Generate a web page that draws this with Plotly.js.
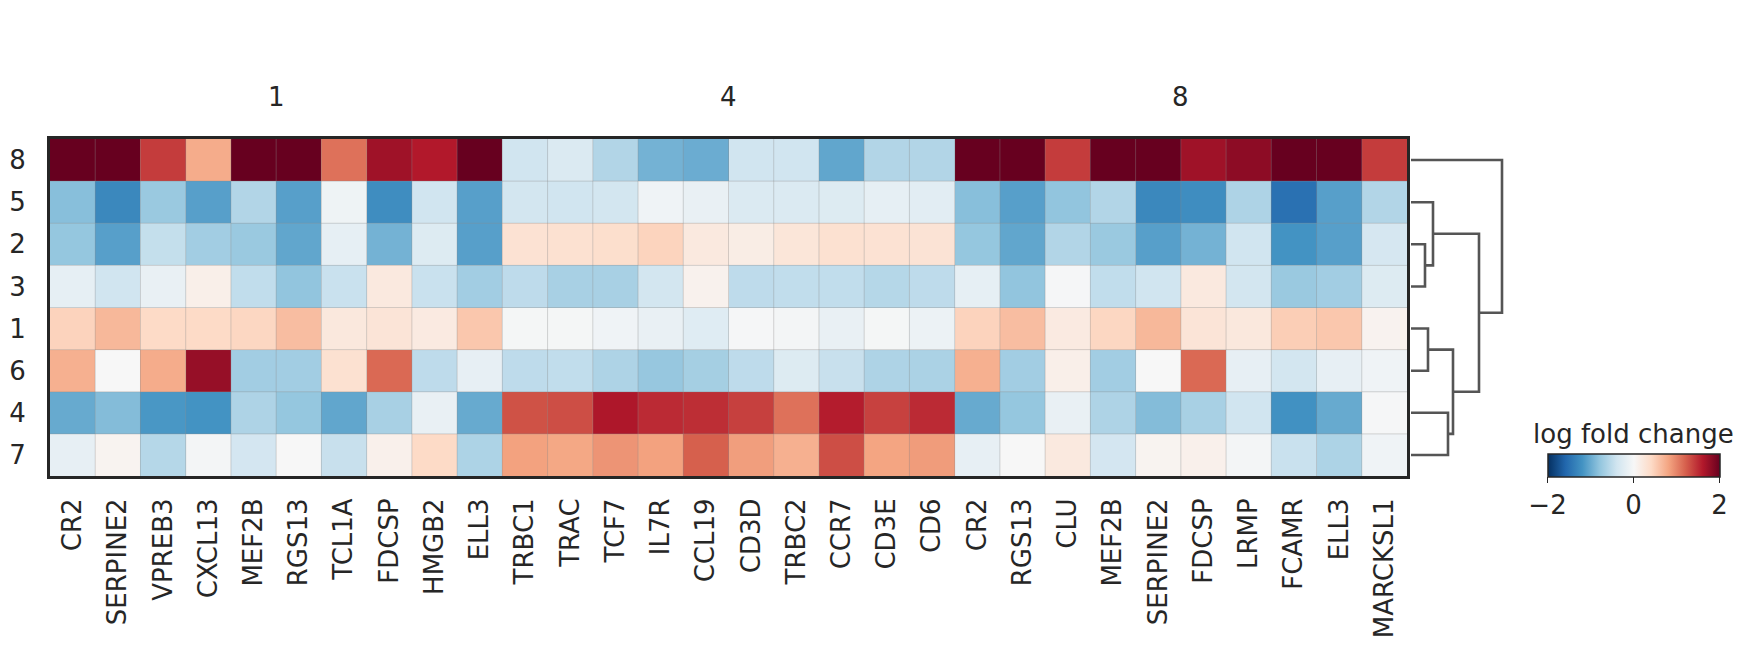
<!DOCTYPE html>
<html>
<head>
<meta charset="utf-8">
<script src="https://cdn.plot.ly/plotly-3.0.1.min.js"></script>
<style>html,body{margin:0;padding:0;background:#fff;}#chart{width:1750px;height:648px;}</style>
</head>
<body>
<div id="chart"></div>
<script>
// ---- data ----
const rowLabels = ['8','5','2','3','1','6','4','7'];
const genes = ['CR2','SERPINE2','VPREB3','CXCL13','MEF2B','RGS13','TCL1A','FDCSP','HMGB2','ELL3',
               'TRBC1','TRAC','TCF7','IL7R','CCL19','CD3D','TRBC2','CCR7','CD3E','CD6',
               'CR2','RGS13','CLU','MEF2B','SERPINE2','FDCSP','LRMP','FCAMR','ELL3','MARCKSL1'];
const groupLabels = ['1','4','8'];
const groupSizes = [10,10,10];

const row8 = [2.5,2.5,1.4,0.75,2.5,2.5,1.1,1.7,1.6,2.5, -0.4,-0.3,-0.6,-0.95,-1.0,-0.4,-0.4,-1.05,-0.6,-0.6, 2.5,2.5,1.4,2.5,2.5,1.7,1.8,2.5,2.5,1.4];
const row5 = [-0.85,-1.3,-0.75,-1.1,-0.6,-1.1,-0.1,-1.25,-0.4,-1.1, -0.38,-0.4,-0.38,-0.08,-0.15,-0.3,-0.3,-0.27,-0.18,-0.22, -0.85,-1.1,-0.8,-0.6,-1.3,-1.25,-0.62,-1.5,-1.1,-0.6];
const row2 = [-0.78,-1.1,-0.48,-0.7,-0.75,-1.05,-0.18,-0.95,-0.27,-1.1, 0.3,0.32,0.35,0.45,0.2,0.15,0.25,0.32,0.3,0.28, -0.78,-1.05,-0.6,-0.75,-1.1,-0.95,-0.4,-1.2,-1.1,-0.35];
const row3 = [-0.18,-0.4,-0.15,0.12,-0.5,-0.8,-0.45,0.2,-0.45,-0.7, -0.52,-0.66,-0.66,-0.38,0.08,-0.52,-0.5,-0.5,-0.58,-0.52, -0.18,-0.8,-0.02,-0.5,-0.4,0.2,-0.38,-0.75,-0.7,-0.27];
const row1 = [0.46,0.66,0.4,0.4,0.43,0.62,0.22,0.27,0.18,0.55, -0.03,-0.03,-0.08,-0.15,-0.25,-0.02,-0.04,-0.15,-0.03,-0.12, 0.46,0.62,0.18,0.43,0.66,0.27,0.22,0.5,0.55,0.07];
const row6 = [0.72,0,0.75,1.75,-0.7,-0.7,0.32,1.15,-0.52,-0.17, -0.52,-0.5,-0.62,-0.77,-0.68,-0.52,-0.27,-0.46,-0.62,-0.64, 0.72,-0.7,0.12,-0.7,0,1.15,-0.17,-0.38,-0.17,-0.08];
const row4 = [-1.02,-0.87,-1.17,-1.2,-0.62,-0.78,-1.05,-0.66,-0.15,-1.02, 1.28,1.3,1.62,1.5,1.48,1.38,1.1,1.58,1.37,1.5, -1.02,-0.78,-0.15,-0.62,-0.87,-0.66,-0.4,-1.22,-1.02,-0.02];
const row7 = [-0.17,0.06,-0.58,-0.04,-0.37,0,-0.46,0.1,0.4,-0.63, 0.82,0.78,0.9,0.82,1.2,0.84,0.72,1.3,0.8,0.85, -0.17,0,0.2,-0.37,0.06,0.1,-0.04,-0.45,-0.63,-0.08];

// dendrogram linkage (leaf ids = row index; new nodes numbered from 8)
const linkLeft   = [2, 1, 4, 6, 10, 9, 0];
const linkRight  = [3, 8, 5, 7, 11, 12, 13];
const linkHeight = [14, 22, 17, 37, 42, 68, 91];

const colorbarTicks = [-2, 0, 2];
const colorbarTitle = 'log fold change';

// ---- build ----
const z = [row8,row5,row2,row3,row1,row6,row4,row7];
const nR = rowLabels.length, nC = genes.length;
const xIdx = genes.map((g,i)=>i);
const yIdx = rowLabels.map((r,i)=>i);

const rdbu_r = [
  [0.0,'#053061'],[0.1,'#2166ac'],[0.2,'#4393c3'],[0.3,'#92c5de'],[0.4,'#d1e5f0'],
  [0.5,'#f7f7f7'],[0.6,'#fddbc7'],[0.7,'#f4a582'],[0.8,'#d6604d'],[0.9,'#b2182b'],[1.0,'#67001f']
];

const W = 1750, H = 648;
const mL = 50, mR = 30, mT = 139, mB = 172;
const pw = W - mL - mR, ph = H - mT - mB;
const heatRight = 1407, dendL = 1411, dendR = 1505;
const font = 'DejaVu Sans, Arial, sans-serif';
const txt = '#262626';
const fs = 26;

const heat = {
  type:'heatmap', x:xIdx, y:yIdx, z:z, zmin:-2, zmax:2, colorscale:rdbu_r,
  xaxis:'x', yaxis:'y', hoverinfo:'z',
  colorbar:{
    orientation:'h', x:(1633.5-mL)/pw, xanchor:'center', y:(mT+ph-454)/ph, yanchor:'top',
    lenmode:'pixels', len:172, thickness:23, xpad:0, ypad:0,
    outlinewidth:1.5, outlinecolor:txt,
    tickvals:colorbarTicks, ticks:'outside', ticklen:6, tickwidth:1.5, tickcolor:txt,
    tickfont:{family:font, size:fs, color:txt}
  }
};

// cell grid lines
const gx = [], gy = [];
for (let i=1;i<nC;i++){ gx.push(i-0.5,i-0.5,null); gy.push(-0.5,nR-0.5,null); }
for (let j=1;j<nR;j++){ gx.push(-0.5,nC-0.5,null); gy.push(j-0.5,j-0.5,null); }
const grid = {type:'scatter', mode:'lines', x:gx, y:gy, xaxis:'x', yaxis:'y',
  line:{color:'rgba(140,140,140,0.45)', width:0.8}, hoverinfo:'skip', showlegend:false};

// dendrogram
const pos = yIdx.slice(), hgt = yIdx.map(()=>0);
const dx = [], dy = [];
for (let k=0;k<linkLeft.length;k++){
  const a = linkLeft[k], b = linkRight[k], h = linkHeight[k];
  dx.push(hgt[a], h, h, hgt[b], null);
  dy.push(pos[a], pos[a], pos[b], pos[b], null);
  pos.push((pos[a]+pos[b])/2); hgt.push(h);
}
const dend = {type:'scatter', mode:'lines', x:dx, y:dy, xaxis:'x2', yaxis:'y',
  line:{color:'#555555', width:2.6}, hoverinfo:'skip', showlegend:false};

// group label annotations
const ann = [];
let start = 0;
groupLabels.forEach((g,i)=>{
  ann.push({text:g, x:start + groupSizes[i]/2 - 0.5, xref:'x', y:(mT+ph-97)/ph, yref:'paper',
    showarrow:false, xanchor:'center', yanchor:'middle', font:{family:font,size:fs,color:txt}});
  start += groupSizes[i];
});
ann.push({text:colorbarTitle, x:(1633-mL)/pw, xref:'paper', y:(mT+ph-434)/ph, yref:'paper',
  showarrow:false, xanchor:'center', yanchor:'middle', font:{family:font,size:fs,color:txt}});

const layout = {
  width:W, height:H, margin:{l:mL, r:mR, t:mT, b:mB, pad:0},
  paper_bgcolor:'#fff', plot_bgcolor:'#fff', showlegend:false,
  font:{family:font, size:fs, color:txt},
  xaxis:{domain:[0,(heatRight-mL)/pw], range:[-0.5,nC-0.5], tickvals:xIdx, ticktext:genes,
    tickangle:-90, ticks:'', ticklabelstandoff:9, showgrid:false, zeroline:false,
    showline:true, mirror:true, linecolor:txt, linewidth:3, fixedrange:true,
    tickfont:{family:font,size:fs,color:txt}},
  yaxis:{range:[nR-0.5,-0.5], tickvals:yIdx, ticktext:rowLabels, ticks:'', ticklabelstandoff:16,
    showgrid:false, zeroline:false, showline:true, mirror:true, linecolor:txt, linewidth:3,
    fixedrange:true, tickfont:{family:font,size:fs,color:txt}},
  xaxis2:{domain:[(dendL-mL)/pw,(dendR-mL)/pw], range:[0,dendR-dendL], anchor:'y',
    visible:false, showgrid:false, zeroline:false, fixedrange:true},
  annotations:ann
};

Plotly.newPlot('chart', [heat, grid, dend], layout, {displayModeBar:false, staticPlot:true});
</script>
</body>
</html>
